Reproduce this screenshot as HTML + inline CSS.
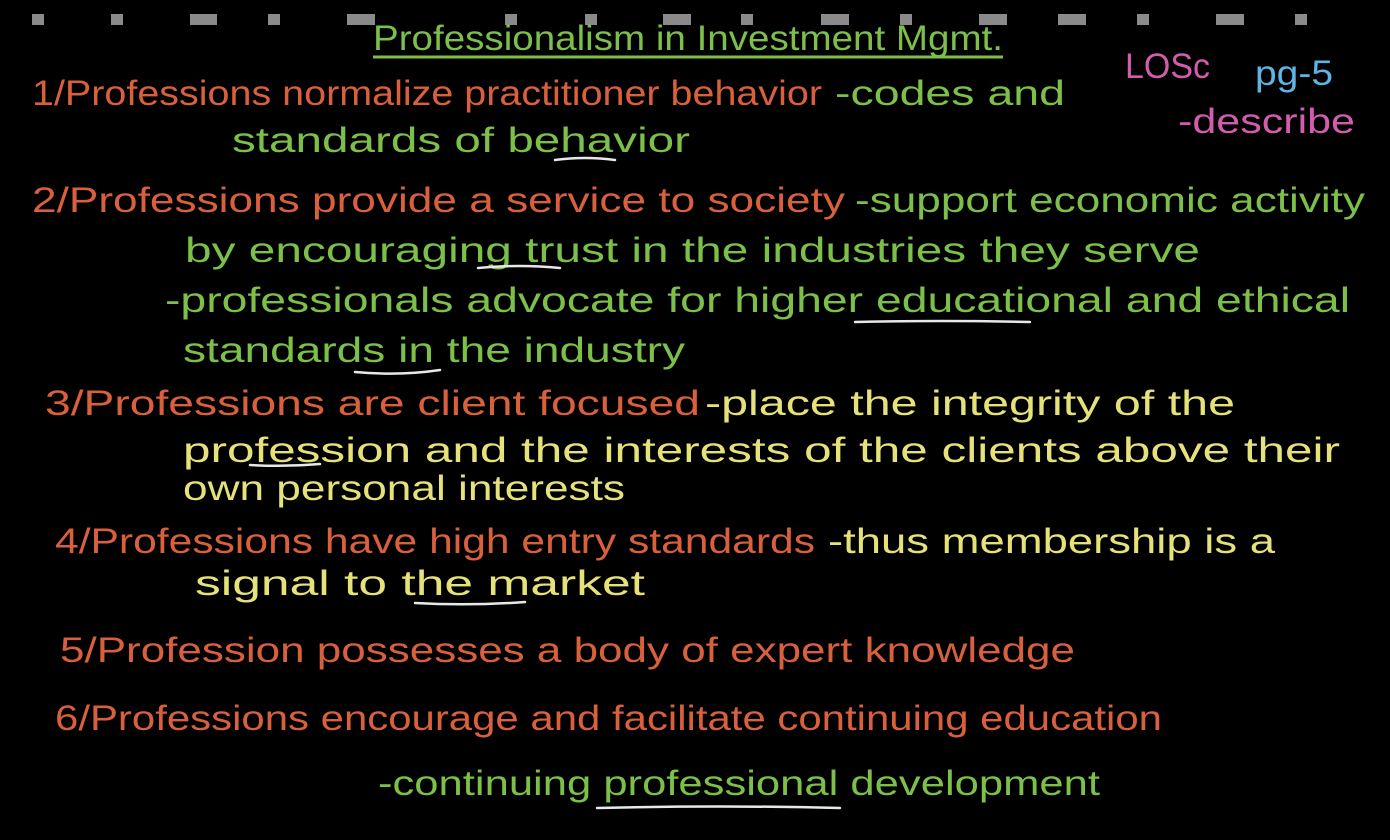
<!DOCTYPE html>
<html><head><meta charset="utf-8"><style>
html,body{margin:0;padding:0;background:#000;width:1390px;height:840px;overflow:hidden}
svg{display:block}
text{font-family:"Liberation Sans",sans-serif;font-size:35px}
.o{fill:#d9603c}.g{fill:#7cc04a}.y{fill:#e6e27a}.p{fill:#d25cae}.b{fill:#5fb4e4}
</style></head><body>
<svg width="1390" height="840" xmlns="http://www.w3.org/2000/svg">
<g fill="#8a8a8a">
<rect x="32" y="14" width="12" height="11"/><rect x="111" y="14" width="12" height="11"/>
<rect x="190" y="14" width="27" height="11"/><rect x="268" y="14" width="12" height="11"/>
<rect x="347" y="14" width="28" height="11"/><rect x="505" y="14" width="12" height="11"/>
<rect x="585" y="14" width="12" height="11"/><rect x="663" y="14" width="28" height="11"/>
<rect x="741" y="14" width="12" height="11"/><rect x="821" y="14" width="28" height="11"/>
<rect x="900" y="14" width="12" height="11"/><rect x="979" y="14" width="28" height="11"/>
<rect x="1058" y="14" width="28" height="11"/><rect x="1137" y="14" width="12" height="11"/>
<rect x="1216" y="14" width="28" height="11"/><rect x="1295" y="14" width="12" height="11"/>
</g>
<text class="g" x="373" y="50" textLength="630" lengthAdjust="spacingAndGlyphs">Professionalism in Investment Mgmt.</text>
<line x1="373" y1="57" x2="1003" y2="57" stroke="#7cc04a" stroke-width="3"/>
<text class="p" x="1125" y="78" textLength="85" lengthAdjust="spacingAndGlyphs">LOSc</text>
<text class="b" x="1255" y="85" textLength="78" lengthAdjust="spacingAndGlyphs">pg-5</text>
<text class="p" x="1178" y="133" textLength="177" lengthAdjust="spacingAndGlyphs">-describe</text>

<text class="o" x="32" y="105" textLength="790" lengthAdjust="spacingAndGlyphs">1/Professions normalize practitioner behavior</text>
<text class="g" x="835" y="105" textLength="230" lengthAdjust="spacingAndGlyphs">-codes and</text>
<text class="g" x="232" y="152" textLength="458" lengthAdjust="spacingAndGlyphs">standards of behavior</text>

<text class="o" x="32" y="212" textLength="813" lengthAdjust="spacingAndGlyphs">2/Professions provide a service to society</text>
<text class="g" x="855" y="212" textLength="510" lengthAdjust="spacingAndGlyphs">-support economic activity</text>
<text class="g" x="185" y="262" textLength="1015" lengthAdjust="spacingAndGlyphs">by encouraging trust in the industries they serve</text>
<text class="g" x="165" y="312" textLength="1185" lengthAdjust="spacingAndGlyphs">-professionals advocate for higher educational and ethical</text>
<text class="g" x="183" y="362" textLength="502" lengthAdjust="spacingAndGlyphs">standards in the industry</text>

<text class="o" x="45" y="415" textLength="655" lengthAdjust="spacingAndGlyphs">3/Professions are client focused</text>
<text class="y" x="705" y="415" textLength="530" lengthAdjust="spacingAndGlyphs">-place the integrity of the</text>
<text class="y" x="183" y="462" textLength="1157" lengthAdjust="spacingAndGlyphs">profession and the interests of the clients above their</text>
<text class="y" x="183" y="500" textLength="442" lengthAdjust="spacingAndGlyphs">own personal interests</text>

<text class="o" x="55" y="553" textLength="760" lengthAdjust="spacingAndGlyphs">4/Professions have high entry standards</text>
<text class="y" x="828" y="553" textLength="447" lengthAdjust="spacingAndGlyphs">-thus membership is a</text>
<text class="y" x="195" y="595" textLength="450" lengthAdjust="spacingAndGlyphs">signal to the market</text>

<text class="o" x="60" y="662" textLength="1015" lengthAdjust="spacingAndGlyphs">5/Profession possesses a body of expert knowledge</text>
<text class="o" x="55" y="730" textLength="1107" lengthAdjust="spacingAndGlyphs">6/Professions encourage and facilitate continuing education</text>
<text class="g" x="378" y="795" textLength="722" lengthAdjust="spacingAndGlyphs">-continuing professional development</text>

<g stroke="#e8e8e8" stroke-width="2.5" fill="none" stroke-linecap="round">
<path d="M555 160 Q585 156 615 160"/>
<path d="M478 268 Q520 264 560 268"/>
<path d="M855 322 Q940 320 1030 322"/>
<path d="M355 372 Q400 376 440 370"/>
<path d="M250 465 Q285 467 320 464"/>
<path d="M415 603 Q470 606 525 602"/>
<path d="M597 808 Q720 805 840 808"/>
</g>
</svg>
</body></html>
